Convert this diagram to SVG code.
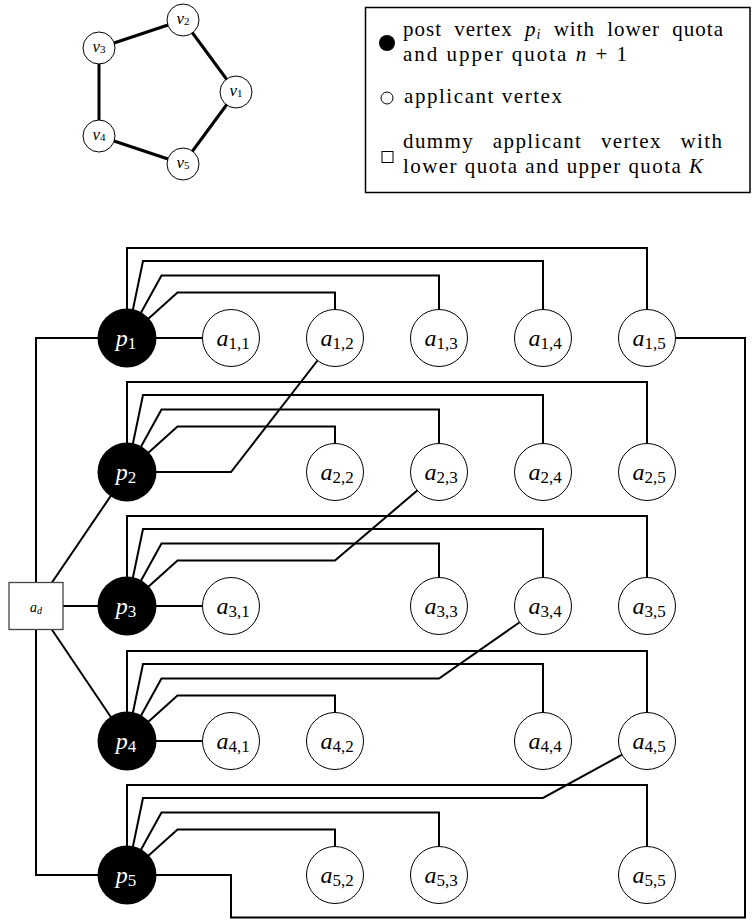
<svg xmlns="http://www.w3.org/2000/svg" width="752" height="920" viewBox="0 0 752 920">
<style>
.e{fill:none;stroke:#000;stroke-width:2;stroke-linejoin:miter}
.pe{fill:none;stroke:#000;stroke-width:3}
.p{fill:#000}
.a{fill:#fff;stroke:#000;stroke-width:1}
.sq{fill:#fff;stroke:#444;stroke-width:1.3}
.t{font-family:"Liberation Serif","Times New Roman",serif;font-style:italic}
.pl{font-size:24px;fill:#fff;text-anchor:middle}
.al{font-size:24px;fill:#000;text-anchor:middle}
.vl{font-size:17px;fill:#000;text-anchor:middle}
.s{font-style:normal;font-size:17px}
.vs{font-style:normal;font-size:11px}
.ds{font-style:italic;font-size:10px}
.lg{font-family:"Liberation Serif","Times New Roman",serif;font-size:21px;fill:#000}
.i{font-style:italic}
</style>

<g id="pentagon-edges">
<line class="pe" x1="236" y1="92" x2="183" y2="20"/>
<line class="pe" x1="183" y1="20" x2="99" y2="48"/>
<line class="pe" x1="99" y1="48" x2="99" y2="136"/>
<line class="pe" x1="99" y1="136" x2="183" y2="164"/>
<line class="pe" x1="183" y1="164" x2="236" y2="92"/>
</g>
<g id="v1"><circle class="a" cx="236" cy="92" r="16"/><text class="t vl" x="236" y="96">v<tspan class="vs" dy="1">1</tspan></text></g>
<g id="v2"><circle class="a" cx="183" cy="20" r="16"/><text class="t vl" x="183" y="24">v<tspan class="vs" dy="1">2</tspan></text></g>
<g id="v3"><circle class="a" cx="99" cy="48" r="16"/><text class="t vl" x="99" y="52">v<tspan class="vs" dy="1">3</tspan></text></g>
<g id="v4"><circle class="a" cx="99" cy="136" r="16"/><text class="t vl" x="99" y="140">v<tspan class="vs" dy="1">4</tspan></text></g>
<g id="v5"><circle class="a" cx="183" cy="164" r="16"/><text class="t vl" x="183" y="168">v<tspan class="vs" dy="1">5</tspan></text></g>

<g id="legend">
<rect x="365.5" y="7.5" width="384.5" height="185" fill="#fff" stroke="#000" stroke-width="1.5"/>
<circle cx="387" cy="43" r="8" fill="#000"/>
<text class="lg" x="403" y="36" textLength="320" lengthAdjust="spacing" word-spacing="6">post vertex <tspan class="i">p</tspan><tspan class="i" font-size="14" dy="3">i</tspan><tspan dy="-3"> with lower quota</tspan></text>
<text class="lg" x="403" y="61" textLength="224" lengthAdjust="spacing">and upper quota <tspan class="i">n</tspan> + 1</text>
<circle cx="387" cy="98" r="6" fill="#fff" stroke="#000" stroke-width="1"/>
<text class="lg" x="404" y="103" textLength="158" lengthAdjust="spacing">applicant vertex</text>
<rect x="382" y="151.5" width="11" height="11" fill="#fff" stroke="#000" stroke-width="1"/>
<text class="lg" x="403" y="148" textLength="319" lengthAdjust="spacing" word-spacing="12">dummy applicant vertex with</text>
<text class="lg" x="403" y="173" textLength="300" lengthAdjust="spacing">lower quota and upper quota <tspan class="i">K</tspan></text>
</g>

<g id="connectors">
<path class="e" d="M127,338 H231"/>
<path class="e" d="M127,338 L177.5,292.5 H335 V338"/>
<path class="e" d="M127,338 L161.5,275.5 H439 V338"/>
<path class="e" d="M127,338 L143,261 H543 V338"/>
<path class="e" d="M127,338 V248 H647 V338"/>
<path class="e" d="M335,338 L231,472 H127"/>
<path class="e" d="M647,338 H745 V917.5 H231 V875 H127"/>
<path class="e" d="M127,338 H36 V606"/>
<path class="e" d="M36,606 V875 H127"/>
<path class="e" d="M127,472 L177.5,426.5 H335 V472"/>
<path class="e" d="M127,472 L161.5,409.5 H439 V472"/>
<path class="e" d="M127,472 L143,395 H543 V472"/>
<path class="e" d="M127,472 V382 H647 V472"/>
<path class="e" d="M36,606 L127,472"/>
<path class="e" d="M36,606 H127"/>
<path class="e" d="M127,606 H231"/>
<path class="e" d="M127,606 L177.5,560.5 H335 L439,472"/>
<path class="e" d="M127,606 L161.5,543.5 H439 V606"/>
<path class="e" d="M127,606 L143,529 H543 V606"/>
<path class="e" d="M127,606 V516 H647 V606"/>
<path class="e" d="M36,606 L127,741"/>
<path class="e" d="M127,741 H231"/>
<path class="e" d="M127,741 L177.5,695.5 H335 V741"/>
<path class="e" d="M127,741 L161.5,678.5 H439 L543,606"/>
<path class="e" d="M127,741 L143,664 H543 V741"/>
<path class="e" d="M127,741 V651 H647 V741"/>
<path class="e" d="M127,875 L177.5,829.5 H335 V875"/>
<path class="e" d="M127,875 L161.5,812.5 H439 V875"/>
<path class="e" d="M127,875 L143,798 H543 L647,741"/>
<path class="e" d="M127,875 V785 H647 V875"/>
</g>

<g id="ad"><rect class="sq" x="9" y="582.5" width="54" height="47"/><text class="t" font-size="14" x="30" y="612">a<tspan class="ds" dy="2">d</tspan></text></g>

<g id="p1"><circle class="p" cx="127" cy="338" r="29.5"/><text class="t pl" x="126" y="346">p<tspan class="s" dy="3">1</tspan></text></g>
<g id="p2"><circle class="p" cx="127" cy="472" r="29.5"/><text class="t pl" x="126" y="480">p<tspan class="s" dy="3">2</tspan></text></g>
<g id="p3"><circle class="p" cx="127" cy="606" r="29.5"/><text class="t pl" x="126" y="614">p<tspan class="s" dy="3">3</tspan></text></g>
<g id="p4"><circle class="p" cx="127" cy="741" r="29.5"/><text class="t pl" x="126" y="749">p<tspan class="s" dy="3">4</tspan></text></g>
<g id="p5"><circle class="p" cx="127" cy="875" r="29.5"/><text class="t pl" x="126" y="883">p<tspan class="s" dy="3">5</tspan></text></g>

<g id="a11"><circle class="a" cx="231" cy="338" r="28.5"/><text class="t al" x="233" y="346">a<tspan class="s" dy="3">1,1</tspan></text></g>
<g id="a12"><circle class="a" cx="335" cy="338" r="28.5"/><text class="t al" x="337" y="346">a<tspan class="s" dy="3">1,2</tspan></text></g>
<g id="a13"><circle class="a" cx="439" cy="338" r="28.5"/><text class="t al" x="441" y="346">a<tspan class="s" dy="3">1,3</tspan></text></g>
<g id="a14"><circle class="a" cx="543" cy="338" r="28.5"/><text class="t al" x="545" y="346">a<tspan class="s" dy="3">1,4</tspan></text></g>
<g id="a15"><circle class="a" cx="647" cy="338" r="28.5"/><text class="t al" x="649" y="346">a<tspan class="s" dy="3">1,5</tspan></text></g>

<g id="a22"><circle class="a" cx="335" cy="472" r="28.5"/><text class="t al" x="337" y="480">a<tspan class="s" dy="3">2,2</tspan></text></g>
<g id="a23"><circle class="a" cx="439" cy="472" r="28.5"/><text class="t al" x="441" y="480">a<tspan class="s" dy="3">2,3</tspan></text></g>
<g id="a24"><circle class="a" cx="543" cy="472" r="28.5"/><text class="t al" x="545" y="480">a<tspan class="s" dy="3">2,4</tspan></text></g>
<g id="a25"><circle class="a" cx="647" cy="472" r="28.5"/><text class="t al" x="649" y="480">a<tspan class="s" dy="3">2,5</tspan></text></g>

<g id="a31"><circle class="a" cx="231" cy="606" r="28.5"/><text class="t al" x="233" y="614">a<tspan class="s" dy="3">3,1</tspan></text></g>
<g id="a33"><circle class="a" cx="439" cy="606" r="28.5"/><text class="t al" x="441" y="614">a<tspan class="s" dy="3">3,3</tspan></text></g>
<g id="a34"><circle class="a" cx="543" cy="606" r="28.5"/><text class="t al" x="545" y="614">a<tspan class="s" dy="3">3,4</tspan></text></g>
<g id="a35"><circle class="a" cx="647" cy="606" r="28.5"/><text class="t al" x="649" y="614">a<tspan class="s" dy="3">3,5</tspan></text></g>

<g id="a41"><circle class="a" cx="231" cy="741" r="28.5"/><text class="t al" x="233" y="749">a<tspan class="s" dy="3">4,1</tspan></text></g>
<g id="a42"><circle class="a" cx="335" cy="741" r="28.5"/><text class="t al" x="337" y="749">a<tspan class="s" dy="3">4,2</tspan></text></g>
<g id="a44"><circle class="a" cx="543" cy="741" r="28.5"/><text class="t al" x="545" y="749">a<tspan class="s" dy="3">4,4</tspan></text></g>
<g id="a45"><circle class="a" cx="647" cy="741" r="28.5"/><text class="t al" x="649" y="749">a<tspan class="s" dy="3">4,5</tspan></text></g>

<g id="a52"><circle class="a" cx="335" cy="875" r="28.5"/><text class="t al" x="337" y="883">a<tspan class="s" dy="3">5,2</tspan></text></g>
<g id="a53"><circle class="a" cx="439" cy="875" r="28.5"/><text class="t al" x="441" y="883">a<tspan class="s" dy="3">5,3</tspan></text></g>
<g id="a55"><circle class="a" cx="647" cy="875" r="28.5"/><text class="t al" x="649" y="883">a<tspan class="s" dy="3">5,5</tspan></text></g>
</svg>
